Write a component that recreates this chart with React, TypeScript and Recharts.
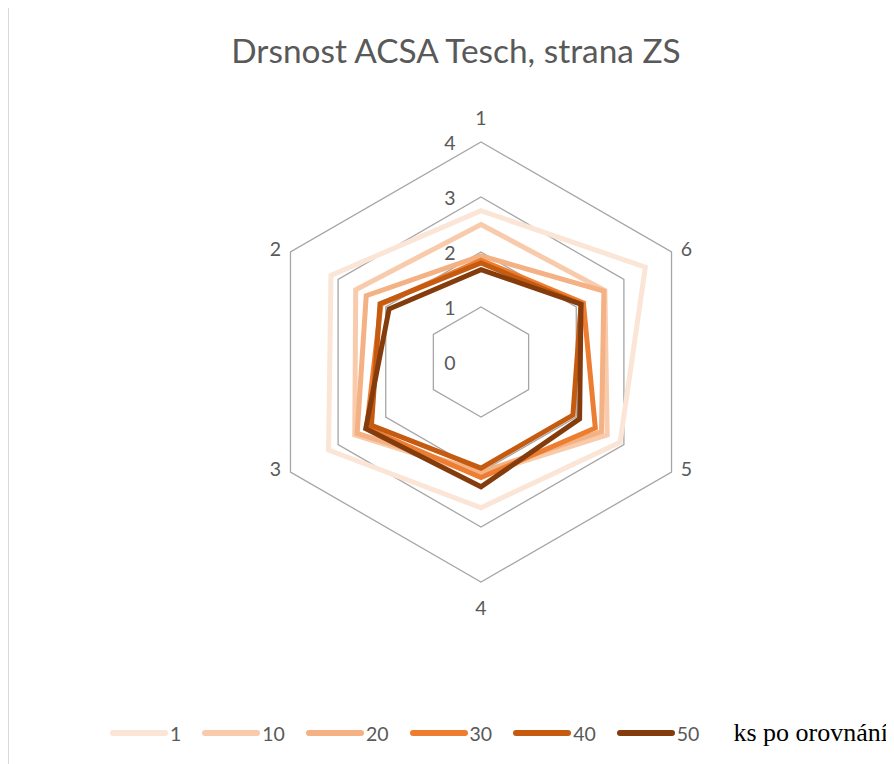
import React from 'react';
import { RadarChart, Radar, PolarGrid, PolarAngleAxis, PolarRadiusAxis } from 'recharts';

const categories = ['1', '2', '3', '4', '5', '6'];
const seriesNames = ['1', '10', '20', '30', '40', '50'];
const s1 = [2.75, 3.15, 3.2, 2.65, 2.92, 3.45];
const s10 = [2.5, 2.63, 2.65, 2.05, 2.65, 2.6];
const s20 = [1.93, 2.41, 2.6, 2.0, 2.53, 2.58];
const s30 = [1.85, 2.1, 2.4, 2.1, 2.4, 2.15];
const s40 = [1.8, 2.12, 2.3, 1.93, 1.93, 2.1];
const s50 = [1.68, 1.93, 2.42, 2.27, 2.07, 2.1];
const radiusTicks = [0, 1, 2, 3, 4];
const colors = ['#fbe5d6', '#f8cbad', '#f4b183', '#ed7d31', '#c55a11', '#843c0c'];
const legendTitle = 'ks po orovnání';
const title = 'Drsnost ACSA Tesch, strana ZS';

// Categories run counter-clockwise from the top; Recharts lays them out clockwise,
// so the table lists the first category and then the rest in reverse order.
const allSeries = [s1, s10, s20, s30, s40, s50];
const order = [0, ...categories.map((_, i) => i).slice(1).reverse()];
const data = order.map((i) => {
  const row: any = { cat: categories[i] };
  seriesNames.forEach((n, k) => {
    row['s' + n] = allSeries[k][i];
  });
  return row;
});

const W = 885;
const H = 756;
const CX = 473;
const CY = 354;
const R = 220;
const FONT = 'Lato, "Open Sans", sans-serif';
const TXT = '#595959';

const AngleTick = (props: any) => {
  const { payload } = props;
  const a = (payload.coordinate * Math.PI) / 180;
  const cos = Math.cos(a);
  const sin = Math.sin(a);
  let x: number;
  let y: number;
  if (Math.abs(cos) < 0.01) {
    x = CX;
    y = CY - sin * (R + 25);
  } else {
    x = CX + cos * R + Math.sign(cos) * 15;
    y = CY - sin * R - 4;
  }
  return (
    <text x={x} y={y} textAnchor="middle" dominantBaseline="central" fill={TXT} fontSize={19.5} fontFamily={FONT}>
      {payload.value}
    </text>
  );
};

const RadiusTick = (props: any) => {
  const { x, y, payload } = props;
  return (
    <text x={x - 31} y={y} textAnchor="middle" dominantBaseline="central" fill={TXT} fontSize={19.5} fontFamily={FONT}>
      {payload.value}
    </text>
  );
};

export default function App() {
  return (
    <div style={{ position: 'relative', width: W, height: H }}>
      <div
        style={{
          position: 'absolute',
          left: 0,
          top: -8,
          width: W - 2,
          height: H + 8,
          borderLeft: '1px solid #d9d9d9',
          borderRight: '1px solid #d9d9d9',
        }}
      />
      <div
        style={{
          position: 'absolute',
          left: 0,
          top: 20,
          width: 896,
          textAlign: 'center',
          fontFamily: FONT,
          fontSize: 33.4,
          color: TXT,
          lineHeight: '44px',
          whiteSpace: 'nowrap',
        }}
      >
        {title}
      </div>
      <div style={{ position: 'absolute', left: 0, top: 0 }}>
        <RadarChart width={W} height={H} data={data} cx={CX} cy={CY} outerRadius={R} startAngle={90} endAngle={-270} margin={{ top: 0, right: 0, bottom: 0, left: 0 }}>
          <PolarGrid gridType="polygon" radialLines={false} stroke="#a6a6a6" strokeWidth={1.3} />
          <PolarAngleAxis dataKey="cat" tick={<AngleTick />} tickLine={false} axisLine={false} />
          <PolarRadiusAxis angle={90} domain={[0, 4]} ticks={radiusTicks as any} tickCount={5} axisLine={false} tickLine={false} tick={<RadiusTick />} />
          {seriesNames.map((n, k) => (
            <Radar
              key={n}
              name={n}
              dataKey={'s' + n}
              stroke={colors[k]}
              strokeWidth={5}
              fill="none"
              fillOpacity={0}
              dot={false}
              isAnimationActive={false}
            />
          ))}
        </RadarChart>
      </div>
      <div
        style={{
          position: 'absolute',
          left: 102,
          top: 710,
          height: 30,
          display: 'flex',
          alignItems: 'center',
          fontFamily: FONT,
          fontSize: 19.5,
          color: TXT,
          whiteSpace: 'nowrap',
        }}
      >
        {seriesNames.map((n, k) => (
          <div key={n} style={{ display: 'flex', alignItems: 'center', marginRight: 21 }}>
            <svg width={58} height={10} style={{ display: 'block' }}>
              <line x1={3} y1={5} x2={55} y2={5} stroke={colors[k]} strokeWidth={6} strokeLinecap="round" />
            </svg>
            <span style={{ marginLeft: 2 }}>{n}</span>
          </div>
        ))}
        <span
          style={{
            marginLeft: 13,
            fontFamily: '"Liberation Serif", "Times New Roman", serif',
            fontSize: 26,
            color: '#000',
          }}
        >
          {legendTitle}
        </span>
      </div>
    </div>
  );
}
